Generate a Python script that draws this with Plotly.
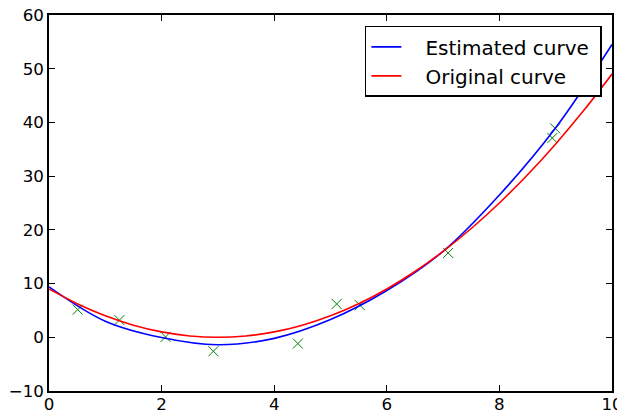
import plotly.graph_objects as go

# Sample points (green crosses)
sample_x = [0.51, 1.25, 2.07, 2.92, 4.42, 5.11, 5.52, 7.09, 8.99, 8.94]
sample_y = [5.15, 3.2, 0.07, -2.6, -1.17, 6.2, 6.0, 15.7, 38.9, 37.1]

# Estimated curve (blue)
est_x = [0, 1, 2, 3, 4, 5, 6, 7, 8, 9, 10]
est_y = [9.4, 3.0, -0.05, -1.4, -0.2, 3.3, 8.7, 16.0, 26.5, 39.0, 54.5]

# Original curve (red)
orig_x = [0, 0.5, 1, 1.5, 2, 2.5, 3, 3.5, 4, 4.5, 5, 5.5, 6, 6.5, 7, 7.5, 8, 8.5, 9, 9.5, 10]
orig_y = [9, 6.25, 4, 2.25, 1, 0.25, 0, 0.25, 1, 2.25, 4, 6.25, 9, 12.25, 16, 20.25, 25, 30.25, 36, 42.25, 49]

x_ticks = [0, 2, 4, 6, 8, 10]
y_ticks = [-10, 0, 10, 20, 30, 40, 50, 60]

fig = go.Figure()
fig.add_trace(go.Scatter(
    x=sample_x, y=sample_y, mode="markers", showlegend=False,
    marker=dict(symbol="x-thin", size=10, line=dict(color="#008000", width=1), color="#008000"),
))
fig.add_trace(go.Scatter(
    x=est_x, y=est_y, mode="lines", name="   Estimated curve ",
    line=dict(color="#0000ff", width=1.6, shape="spline", smoothing=1.0),
))
fig.add_trace(go.Scatter(
    x=orig_x, y=orig_y, mode="lines", name="   Original curve ",
    line=dict(color="#ff0000", width=1.6, shape="spline", smoothing=1.0),
))

axis_common = dict(
    showgrid=False, zeroline=False, showline=True, linecolor="black", linewidth=1.5,
    mirror="ticks", ticks="inside", ticklen=6, tickwidth=1, tickcolor="black",
    automargin=False, ticklabeloverflow="allow",
    tickfont=dict(family="DejaVu Sans", size=16.7, color="black"),
)
fig.update_xaxes(range=[0, 10], tickvals=x_ticks, ticktext=[str(v) for v in x_ticks],
                 ticklabelstandoff=-3, **axis_common)
fig.update_yaxes(range=[-10, 60], tickvals=y_ticks, **axis_common)

# the page body adds an 8px offset, so the figure is sized to fit the window
fig.update_layout(
    width=617, height=405,
    margin=dict(l=41, r=13, t=7, b=22),
    paper_bgcolor="white", plot_bgcolor="white",
    font=dict(family="DejaVu Sans", color="black"),
    legend=dict(
        x=0.982, y=0.971, xanchor="right", yanchor="top",
        bgcolor="white", bordercolor="black", borderwidth=1.5,
        font=dict(family="DejaVu Sans", size=20, color="black"),
    ),
)

fig.write_html("out.html")
